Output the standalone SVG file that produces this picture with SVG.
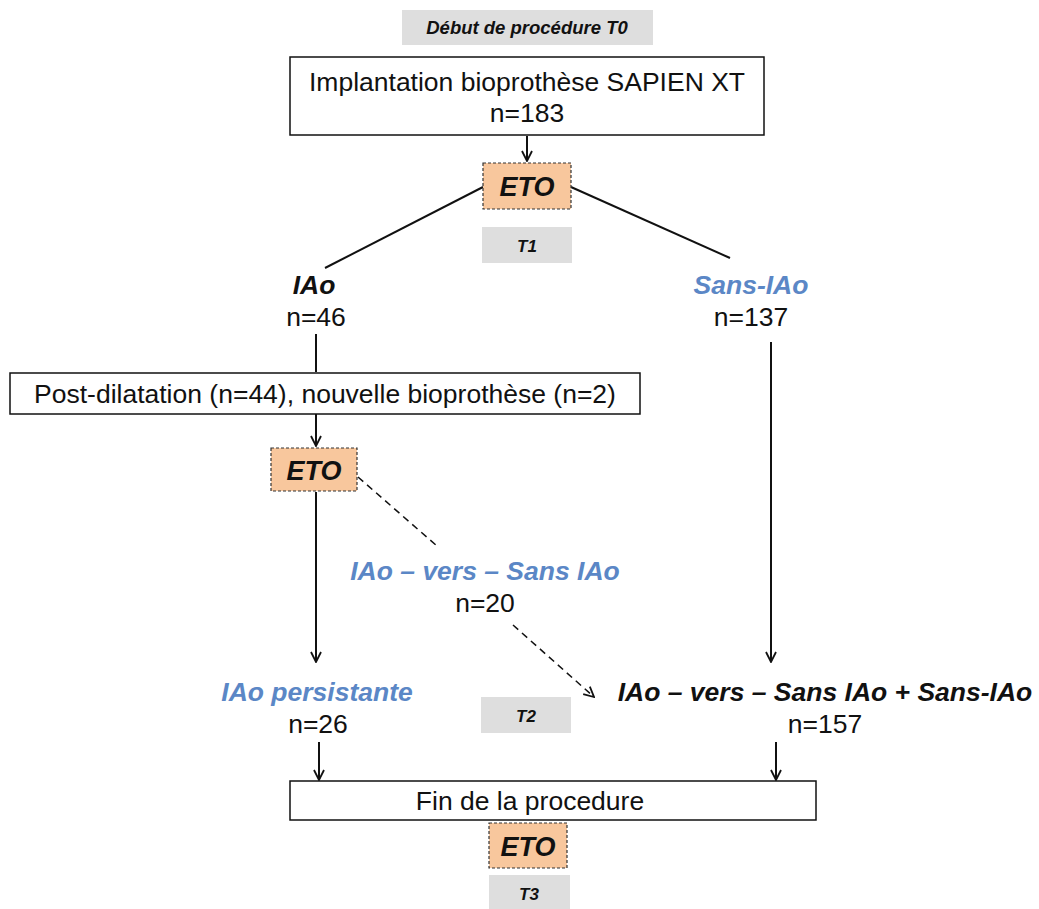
<svg xmlns="http://www.w3.org/2000/svg" width="1039" height="909" viewBox="0 0 1039 909">
<defs>
<style>
.t{font-family:"Liberation Sans",Arial,sans-serif;fill:#111;text-anchor:middle}
.n{font-size:26.5px}
.bi{font-weight:bold;font-style:italic}
.blue{fill:#5B87C6}
.box{fill:#fff;stroke:#111;stroke-width:1.5}
.gray{fill:#DEDEDE}
.eto{fill:#F8C79D;stroke:#333;stroke-width:1.2;stroke-dasharray:3 2}
.ln{stroke:#111;stroke-width:2;fill:none}
.dash{stroke:#111;stroke-width:1.5;fill:none;stroke-dasharray:7 5}
</style>
<marker id="ah" viewBox="0 0 12 12" refX="11" refY="6" markerWidth="12" markerHeight="12" markerUnits="userSpaceOnUse" orient="auto">
<path d="M1,1 L11,6 L1,11" fill="none" stroke="#111" stroke-width="1.8"/>
</marker>
</defs>
<rect width="1039" height="909" fill="#fff"/>
<g id="connectors">
<line class="ln" x1="527" y1="136" x2="527" y2="161" marker-end="url(#ah)"/>
<line class="ln" x1="483" y1="187" x2="325" y2="268"/>
<line class="ln" x1="571" y1="187" x2="730" y2="258"/>
<line class="ln" x1="316" y1="334" x2="316" y2="372"/>
<line class="ln" x1="316" y1="414" x2="316" y2="446" marker-end="url(#ah)"/>
<line class="ln" x1="316" y1="492" x2="316" y2="662" marker-end="url(#ah)"/>
<line class="ln" x1="771" y1="342" x2="771" y2="662" marker-end="url(#ah)"/>
<line class="dash" x1="358" y1="477" x2="437" y2="546"/>
<line class="dash" x1="513" y1="625" x2="594" y2="697" marker-end="url(#ah)"/>
<line class="ln" x1="319" y1="742" x2="319" y2="780" marker-end="url(#ah)"/>
<line class="ln" x1="776" y1="742" x2="776" y2="780" marker-end="url(#ah)"/>
</g>
<g id="t0">
<rect class="gray" x="402" y="10" width="251" height="35"/>
<text class="t bi" x="527" y="34" font-size="18.5">Début de procédure T0</text>
</g>
<g id="implantation">
<rect class="box" x="290" y="57" width="474" height="78"/>
<text class="t n" x="527" y="91">Implantation bioprothèse SAPIEN XT</text>
<text class="t n" x="527" y="122">n=183</text>
</g>
<g id="eto1">
<rect class="eto" x="483" y="163" width="88" height="46"/>
<text class="t bi" x="527" y="196" font-size="27">ETO</text>
</g>
<g id="t1">
<rect class="gray" x="482" y="227" width="90" height="36"/>
<text class="t bi" x="527" y="252" font-size="17">T1</text>
</g>
<g id="iao">
<text class="t n bi" x="314" y="294">IAo</text>
<text class="t n" x="316" y="326">n=46</text>
</g>
<g id="sans-iao">
<text class="t n bi blue" x="751" y="294">Sans-IAo</text>
<text class="t n" x="751" y="326">n=137</text>
</g>
<g id="post-dilatation">
<rect class="box" x="10" y="373" width="630" height="41"/>
<text class="t n" x="325" y="403">Post-dilatation (n=44), nouvelle bioprothèse (n=2)</text>
</g>
<g id="eto2">
<rect class="eto" x="271" y="448" width="86" height="43"/>
<text class="t bi" x="314" y="480" font-size="27">ETO</text>
</g>
<g id="iao-vers">
<text class="t n bi blue" x="485" y="580">IAo – vers – Sans IAo</text>
<text class="t n" x="485" y="612">n=20</text>
</g>
<g id="iao-persistante">
<text class="t n bi blue" x="317" y="701">IAo persistante</text>
<text class="t n" x="318" y="733">n=26</text>
</g>
<g id="t2">
<rect class="gray" x="481" y="697" width="90" height="36"/>
<text class="t bi" x="526" y="722" font-size="17">T2</text>
</g>
<g id="iao-vers-sans">
<text class="t n bi" x="825" y="701">IAo – vers – Sans IAo + Sans-IAo</text>
<text class="t n" x="825" y="733">n=157</text>
</g>
<g id="fin">
<rect class="box" x="290" y="781" width="526" height="39"/>
<text class="t n" x="530" y="810">Fin de la procedure</text>
</g>
<g id="eto3">
<rect class="eto" x="489" y="823" width="78" height="45"/>
<text class="t bi" x="528" y="856" font-size="27">ETO</text>
</g>
<g id="t3">
<rect class="gray" x="489" y="875" width="81" height="34"/>
<text class="t bi" x="529" y="900" font-size="17">T3</text>
</g>
</svg>
